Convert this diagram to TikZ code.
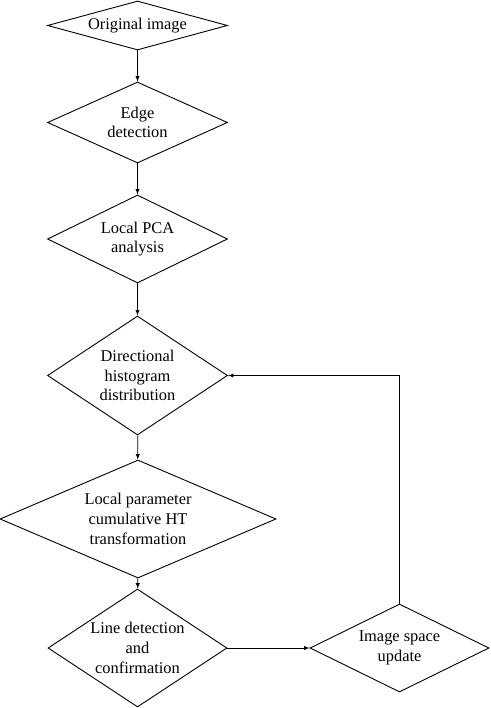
\documentclass[tikz,border=0pt]{standalone}
\usepackage{fontspec}
\setmainfont{Liberation Serif}
\usepackage{tikz}
\usetikzlibrary{shapes.geometric}

\begin{document}
\begin{tikzpicture}[x=1pt, y=-1pt, line width=0.9pt,
        dmd/.style={diamond, draw, fill=white, inner sep=0pt, align=center,
            font=\fontsize{16.4}{19.7}\selectfont}]
        \useasboundingbox (0,0) rectangle (490,708);

        \node[dmd, aspect=3.67, minimum width=180pt, minimum height=49pt] (orig) at (137.5, 25.5) {Original image};
        \node[dmd, aspect=2.22, minimum width=180pt, minimum height=81pt] (edge) at (137.5, 122.5) {Edge\\detection};
        \node[dmd, aspect=2.05, minimum width=180pt, minimum height=88pt] (pca) at (137.5, 239) {Local PCA\\analysis};
        \node[dmd, aspect=1.51, minimum width=180pt, minimum height=119pt] (hist) at (137.5, 375.5) {Directional\\histogram\\distribution};
        \node[dmd, aspect=2.34, minimum width=276pt, minimum height=118pt] (ht) at (138, 519) {Local parameter\\cumulative HT\\transformation};
        \node[dmd, aspect=1.52, minimum width=179pt, minimum height=118pt] (line) at (137.5, 648) {Line detection\\and\\confirmation};
        \node[dmd, aspect=2.03, minimum width=179pt, minimum height=88pt] (upd) at (399.5, 648) {Image space\\update};

        \draw[-latex] (orig) -- (edge);
        \draw[-latex] (edge) -- (pca);
        \draw[-latex] (pca) -- (hist);
        \draw[-latex] (hist) -- (ht);
        \draw[-latex] (ht) -- (line);
        \draw[-latex] (line) -- (upd);
        \draw[-latex] (upd.north) |- (hist.east);
    \end{tikzpicture}
\end{document}
